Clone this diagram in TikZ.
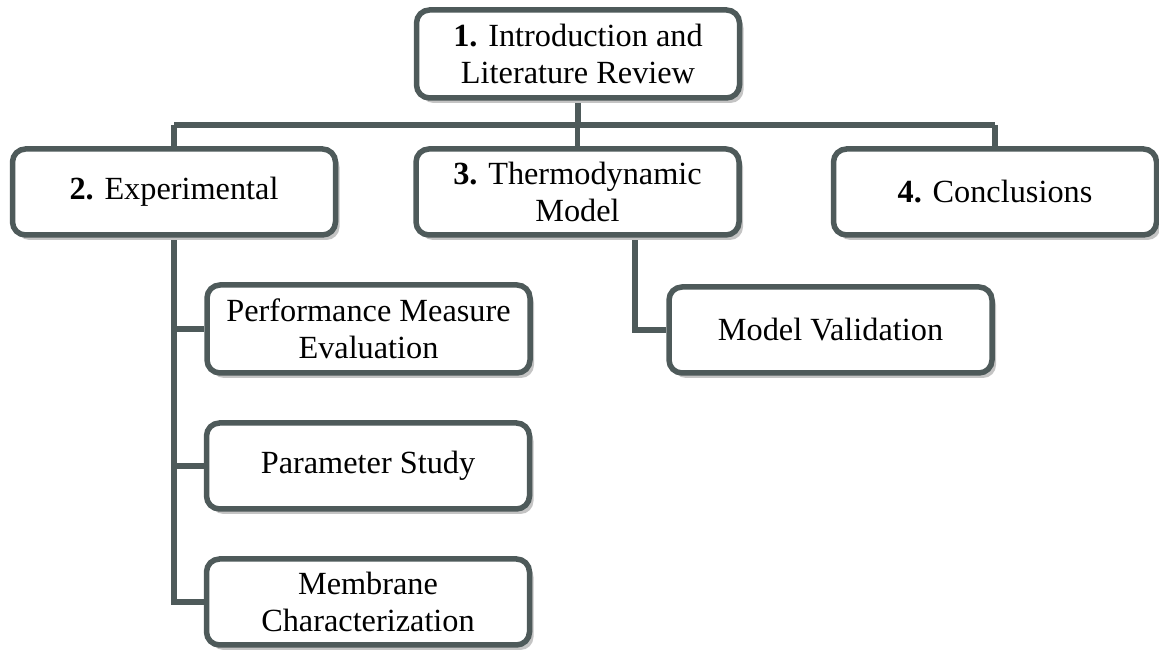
\documentclass[tikz,border=0pt]{standalone}
\usepackage{fontspec}
\setmainfont{Liberation Serif}
\usetikzlibrary{shadows,backgrounds}
\definecolor{edge}{HTML}{4E5A5A}
\definecolor{shade}{HTML}{C4C4C4}
\tikzset{
  box/.style={draw=edge, line width=5.5pt, rounded corners=13pt, fill=white,
    minimum width=323pt, minimum height=86pt, align=center,
    font=\fontsize{32.3}{37}\selectfont, inner sep=2pt,
    drop shadow={shadow xshift=4pt, shadow yshift=-5pt, fill=shade, opacity=1}},
  link/.style={draw=edge, line width=5.5pt}
}
\begin{document}
\begin{tikzpicture}[x=1pt,y=1pt]
\useasboundingbox (0,0) rectangle (1159,653);
\node[box, minimum height=88pt] (b1) at (578,599) {\textbf{1.} Introduction and\\Literature Review};
\node[box] (b2) at (174,461) {\textbf{2.} Experimental};
\node[box] (b3) at (577.5,461) {\textbf{3.} Thermodynamic\\Model};
\node[box] (b4) at (995,461) {\textbf{4.} Conclusions};
\node[box, minimum height=88pt] (pm) at (368.5,324) {Performance Measure\\Evaluation};
\node[box] (ps) at (368,187) {Parameter Study};
\node[box] (mc) at (368,51) {Membrane\\Characterization};
\node[box] (mv) at (830.5,323) {Model Validation};
\coordinate (hb) at (578,528);
\begin{scope}[on background layer]
\draw[link] (b1.south) -- (hb);
\draw[link] (hb -| b2.north) -- (hb -| b4.north);
\draw[link] (hb -| b2.north) -- (b2.north);
\draw[link] (hb -| b3.north) -- (b3.north);
\draw[link] (hb -| b4.north) -- (b4.north);
\draw[link] (b2.south) |- (pm.west);
\draw[link] (b2.south) |- (ps.west);
\draw[link] (b2.south) |- (mc.west);
\draw[link] ([xshift=57.5pt]b3.south) |- (mv.west);
\end{scope}
\end{tikzpicture}
\end{document}
